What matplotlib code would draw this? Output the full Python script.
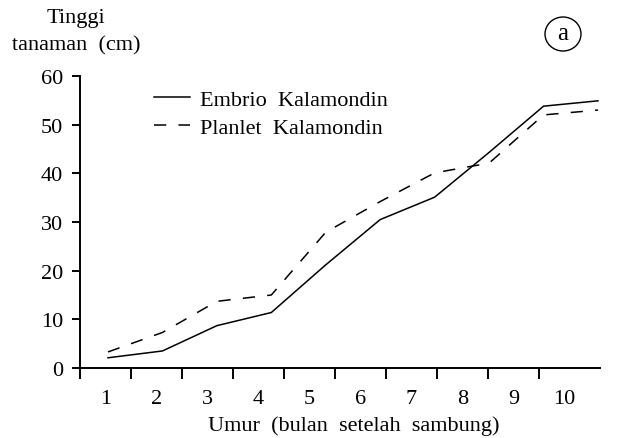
import matplotlib
matplotlib.use("Agg")
import matplotlib.pyplot as plt
from matplotlib.patches import Ellipse

months = [1, 2, 3, 4, 5, 6, 7, 8, 9, 10]
month_labels = ["1", "2", "3", "4", "5", "6", "7", "8", "9", "10"]
embrio = [2.1, 3.5, 8.7, 11.4, 21.2, 30.5, 35.1, 44.3, 53.8, 54.9]
planlet = [3.3, 7.3, 13.7, 15.0, 27.9, 34.2, 40.1, 42.1, 52.0, 53.0]
yticks = [0, 10, 20, 30, 40, 50, 60]

plt.rcParams['font.family'] = ['Liberation Serif', 'DejaVu Serif']
FS = 16

W, H = 619, 439
fig = plt.figure(figsize=(W/100, H/100), dpi=100)
ax = fig.add_axes([80/W, 1-369/H, 520/W, (369-77)/H])

ax.plot(months, embrio, color='black', lw=1.1, label='Embrio  Kalamondin')
ax.plot(months, planlet, color='black', lw=1.1, dashes=(8, 8), label='Planlet  Kalamondin')

# data x range: month 1 near left, month 10 at right end of axis
x0, x1 = 0.486, 10.037
ax.set_xlim(x0, x1)
ax.set_ylim(0, 60)
for s in ['top', 'right']:
    ax.spines[s].set_visible(False)
for s in ['left', 'bottom']:
    ax.spines[s].set_linewidth(1.4)

ax.set_yticks(yticks)
ax.set_yticklabels([str(v) for v in yticks], fontsize=FS)
ax.tick_params(axis='y', direction='out', length=6, width=1.4, pad=6)
ax.set_xticks([])

# category axis: ticks at boundaries, labels centred between them
scale = (x1 - x0) * 51.0 / 520.0  # data units per category cell
def to_cat(x):
    return (x - x0) / scale
def from_cat(c):
    return c * scale + x0

sec = ax.secondary_xaxis('bottom', functions=(to_cat, from_cat))
sec.spines['bottom'].set_visible(False)
sec.set_xticks([m - 1 for m in months])
sec.set_xticklabels([])
sec.tick_params(axis='x', direction='out', length=8, width=1.4)
sec.set_xticks([m - 0.5 for m in months], minor=True)
sec.set_xticklabels(month_labels, minor=True, fontsize=FS)
sec.tick_params(axis='x', which='minor', length=0, pad=15)
sec.set_xlabel('Umur  (bulan  setelah  sambung)', fontsize=FS, labelpad=5)
sec.xaxis.label.set_x(0.527)

fig.text(76/W, 1-18/H, 'Tinggi', ha='center', va='center', fontsize=FS)
fig.text(76/W, 1-46/H, 'tanaman  (cm)', ha='center', va='center', fontsize=FS)

ax.legend(loc='upper left', bbox_to_anchor=(154/W, 1-90/H), bbox_transform=fig.transFigure,
          frameon=False, fontsize=FS, handlelength=1.6, handletextpad=0.45,
          labelspacing=0.35, borderpad=0, borderaxespad=0)

# circled 'a'
cx, cy = 563/W, 1-35/H
fig.text(cx, cy + 1/H, 'a', ha='center', va='center', fontsize=18)
fig.add_artist(Ellipse((cx, cy), 36/W, 34/H, transform=fig.transFigure,
                       fill=False, edgecolor='black', lw=1.0))

fig.savefig('out.png', dpi=100)
